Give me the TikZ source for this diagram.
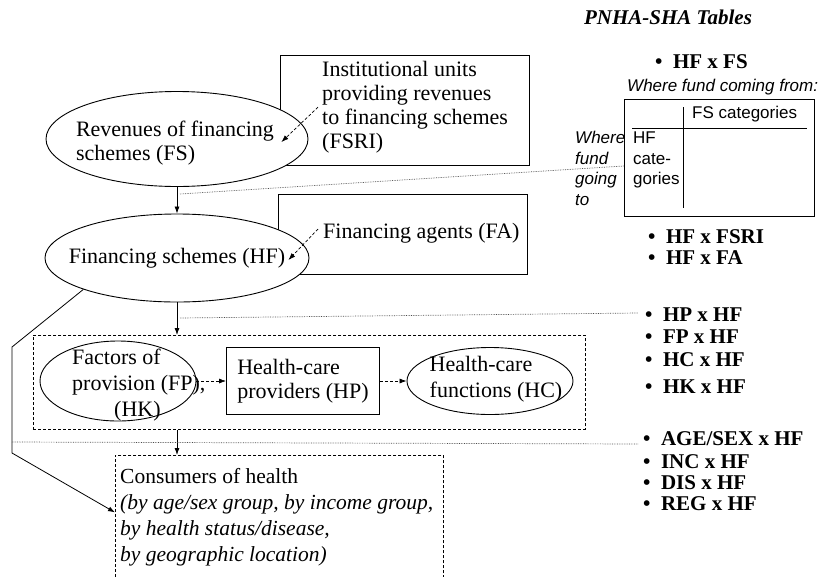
\documentclass[tikz,border=0pt]{standalone}
\usepackage{fontspec}
\setmainfont{Liberation Serif}
\setsansfont{Liberation Sans}
\usetikzlibrary{arrows.meta,shapes.geometric}
\tikzset{
  txt/.style={font=\fontsize{22}{24}\selectfont,inner sep=0pt,align=left},
  sanstext/.style={font=\sffamily\fontsize{17}{20.5}\selectfont,inner sep=0pt,align=left},
  sansit/.style={font=\sffamily\itshape\fontsize{17}{20.5}\selectfont,inner sep=0pt,align=left},
  item/.style={font=\bfseries\fontsize{21}{24}\selectfont,inner sep=0pt,anchor=west},
  box/.style={draw,line width=.9pt,inner sep=0pt},
  oval/.style={draw,ellipse,fill=white,line width=.9pt,inner sep=0pt},
  dbox/.style={draw,line width=.8pt,dash pattern=on 3pt off 2pt,inner sep=0pt},
  arr/.style={-{Latex[length=7pt,width=5pt]},line width=.8pt},
  darr/.style={arr,line width=.7pt,dash pattern=on 3pt off 2pt},
  guide/.style={line width=.7pt,densely dotted,black!70},
}
\begin{document}
\begin{tikzpicture}[x=1pt,y=-1pt]
\useasboundingbox (0,0) rectangle (818,576);
% boxes behind the ovals
\node[box,anchor=north west,minimum width=249,minimum height=110] (fsri) at (280,55) {};
\node[box,anchor=north west,minimum width=249,minimum height=80] (fa) at (278,194) {};
\node[txt,anchor=north west] (fsritxt) at (322,61) {Institutional units\\providing revenues\\to financing schemes\\(FSRI)};
\node[txt,anchor=west] (fatxt) at (323,233) {Financing agents (FA)};
\node[oval,minimum width=262,minimum height=95] (fs) at (177,139) {};
\node[txt] (fstxt) at (175,143) {Revenues of financing\\schemes (FS)};
\node[oval,minimum width=264,minimum height=88] (hf) at (177,258) {};
\node[txt] (hftxt) at (hf) {Financing schemes (HF)};
% provision block
\node[dbox,anchor=north west,minimum width=552,minimum height=94] (prov) at (33,335) {};
\node[oval,minimum width=156,minimum height=80] (fp) at (118,381) {};
\node[txt,anchor=north west,font=\fontsize{22}{26}\selectfont] (fptxt) at (72,349) {Factors of\\provision (FP),\\\hspace*{42pt}(HK)};
\node[box,txt,minimum width=153,minimum height=67] (hp) at (303,381) {Health-care\\providers (HP)};
\node[oval,minimum width=166,minimum height=67] (hc) at (490,381) {};
\node[txt,font=\fontsize{22}{26}\selectfont] (hctxt) at (496,379) {Health-care\\functions (HC)};
% consumers
\node[dbox,anchor=north west,minimum width=328,minimum height=140] (cons) at (115,455) {};
\node[txt,anchor=north west,font=\fontsize{21.5}{26}\selectfont] (constxt) at (120,468) {Consumers of health\\\textit{(by age/sex group, by income group,}\\\textit{by health status/disease,}\\\textit{by geographic location)}};
\draw[arr] (fs) -- (hf);
\draw[arr] (hf) -- (hf |- prov.north);
\draw[arr] (prov.south -| hf) -- (cons.north -| hf);
\draw[darr] (fp) -- (hp);
\draw[darr] (hp) -- (hc);
\draw[darr] ([xshift=-4pt]fsritxt.west) -- ([shift={(-27pt,-3pt)}]fs.east);
\draw[darr] ([shift={(-5pt,4pt)}]fatxt.west) -- ([shift={(-21pt,-2pt)}]hf.east);
\coordinate (k1) at (12,347);
\coordinate (k2) at (12,453);
\draw[arr] (hf.south west) -- (k1) -- (k2) -- ([yshift=13pt]cons.west);
% tables on the right
\node[font=\bfseries\itshape\fontsize{21}{24}\selectfont] (title) at (668,17) {PNHA-SHA Tables};
\foreach \n/\x/\y/\t in {hffs/655/62/HF x FS, hffsri/648/237/HF x FSRI, hffa/648/258/HF x FA,
  hphf/645/315/HP x HF, fphf/645/337/FP x HF, hchf/645/360/HC x HF, hkhf/645/387/HK x HF,
  agehf/643/439/{AGE/SEX x HF}, inchf/643/462/INC x HF, dishf/643/483/DIS x HF, reghf/643/504/REG x HF}
  \node[item] (\n) at (\x,\y) {\textbullet\enspace\t};
\node[sansit,anchor=west] (coming) at (627,87) {Where fund coming from:};
\node[box,minimum width=190,minimum height=117] (tbl) at (719,157.5) {};
\draw[line width=.9pt] (683,107) -- (683,208);
\draw[line width=.9pt] (632,128) -- (807,128);
\node[sanstext,anchor=west] (fscat) at (692,114) {FS categories};
\node[sanstext,anchor=north west] (hfcat) at (633,132) {HF\\cate-\\gories};
\node[sansit,anchor=north west] (going) at (575,131) {Where\\fund\\going\\to};
\coordinate (d1) at (180,194);
\coordinate (d2) at (180,318);
\coordinate (d3) at (12,442);
\draw[guide] (d1) -- ([yshift=-8.5pt]tbl.west);
\draw[guide] (d2) -- ([shift={(-7pt,2pt)}]hphf.west);
\draw[guide] (d3) -- ([shift={(-5pt,-5pt)}]agehf.west);
\end{tikzpicture}
\end{document}
